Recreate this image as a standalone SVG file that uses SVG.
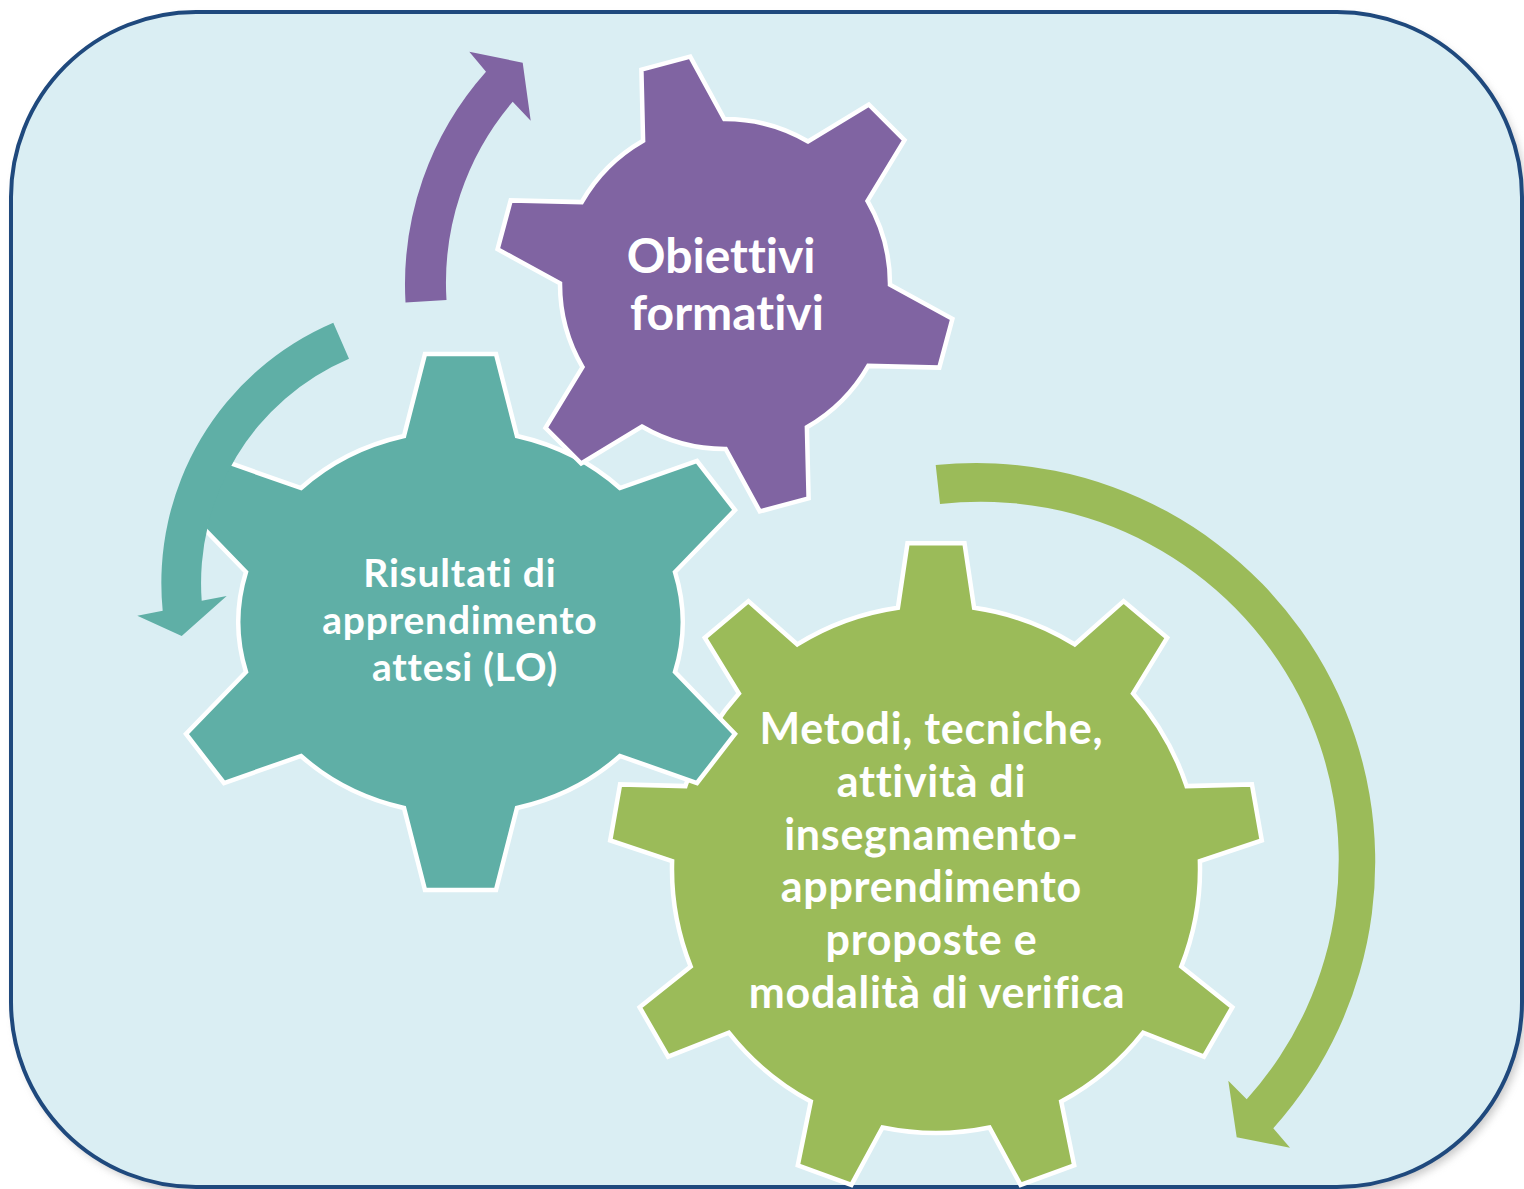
<svg xmlns="http://www.w3.org/2000/svg" width="1524" height="1189" viewBox="0 0 1524 1189">
  <defs>
    <filter id="shadow" x="-5%" y="-5%" width="110%" height="110%">
      <feGaussianBlur stdDeviation="4"/>
    </filter>
  </defs>
  <style>
    .gear { stroke: #FFFFFF; stroke-width: 4.5; stroke-linejoin: miter; }
    .lbl { font-family: Lato, "Open Sans", "Liberation Sans", sans-serif; font-weight: 700; fill: #FFFFFF; text-anchor: middle; font-variant-ligatures: none; font-feature-settings: "liga" 0, "clig" 0, "dlig" 0; }
    .arrow { stroke: none; }
  </style>
  <rect x="0" y="0" width="1524" height="1189" fill="#FFFFFF"/>
  <g id="background">
    <rect x="15" y="17" width="1511" height="1175" rx="185" ry="185" fill="#9A9A9A" opacity="0.55" filter="url(#shadow)"/>
    <rect x="11" y="12" width="1511" height="1175" rx="185" ry="185" fill="#DAEEF3" stroke="#1F497D" stroke-width="4"/>
  </g>

  <g id="node-metodi">
    <path class="gear" fill="#9BBB59" d="M 897.9,607.8 L 907.5,543.2 L 964.5,543.2 L 974.1,607.8 A 264 264 0 0 1 1074.7,644.4 L 1123.6,601.1 L 1167.2,637.8 L 1133.1,693.4 A 264 264 0 0 1 1186.6,786.1 L 1251.9,784.4 L 1261.8,840.5 L 1199.9,861.2 A 264 264 0 0 1 1181.3,966.6 L 1232.4,1007.2 L 1203.9,1056.6 L 1143.2,1032.6 A 264 264 0 0 1 1061.2,1101.5 L 1074.2,1165.4 L 1020.6,1184.9 L 989.5,1127.5 A 264 264 0 0 1 882.5,1127.5 L 851.4,1184.9 L 797.8,1165.4 L 810.8,1101.5 A 264 264 0 0 1 728.8,1032.6 L 668.1,1056.6 L 639.6,1007.2 L 690.7,966.6 A 264 264 0 0 1 672.1,861.2 L 610.2,840.5 L 620.1,784.4 L 685.4,786.1 A 264 264 0 0 1 738.9,693.4 L 704.8,637.8 L 748.4,601.1 L 797.3,644.4 A 264 264 0 0 1 897.9,607.8 Z"/>
    <text class="lbl" font-size="43" letter-spacing="0.7">
      <tspan x="937" y="744">Metodi, tecniche,</tspan>
      <tspan x="937" y="797">attività di</tspan>
      <tspan x="937" y="850">insegnamento-</tspan>
      <tspan x="937" y="902">apprendimento</tspan>
      <tspan x="937" y="955">proposte e</tspan>
      <tspan x="937" y="1008">modalità di verifica</tspan>
    </text>
  </g>

  <g id="node-risultati">
    <path class="gear" fill="#5FAFA6" d="M 404,436 L 425,354 L 496,354 L 517,436 A 222 192 0 0 1 620,488 L 697,461 L 735,510 L 675,572 A 222 192 0 0 1 675,672 L 735,734 L 697,783 L 620,756 A 222 192 0 0 1 517,808 L 496,890 L 425,890 L 404,808 A 222 192 0 0 1 301,756 L 224,783 L 186,734 L 246,672 A 222 192 0 0 1 246,572 L 186,510 L 224,461 L 301,488 A 222 192 0 0 1 404,436 Z"/>
    <text class="lbl" font-size="39" letter-spacing="0.8">
      <tspan x="465" y="587">Risultati di</tspan>
      <tspan x="465" y="634">apprendimento</tspan>
      <tspan x="465" y="681">attesi (LO)</tspan>
    </text>
  </g>

  <g id="node-obiettivi">
    <path class="gear" fill="#8064A2" d="M 643.1,140.7 L 641.4,69.7 L 690.2,56.6 L 724.3,119 A 165 165 0 0 1 808.1,141.5 L 868.8,104.5 L 904.5,140.2 L 867.5,200.9 A 165 165 0 0 1 890,284.7 L 952.4,318.8 L 939.3,367.6 L 868.3,365.9 A 165 165 0 0 1 806.9,427.3 L 808.6,498.3 L 759.8,511.4 L 725.7,449 A 165 165 0 0 1 641.9,426.5 L 581.2,463.5 L 545.5,427.8 L 582.5,367.1 A 165 165 0 0 1 560,283.3 L 497.6,249.2 L 510.7,200.4 L 581.7,202.1 A 165 165 0 0 1 643.1,140.7 Z"/>
    <text class="lbl" font-size="48">
      <tspan x="727" y="273">Obiettivi</tspan>
      <tspan x="727" y="330">formativi</tspan>
    </text>
  </g>

  <g id="connectors">
    <path class="arrow" fill="#8064A2" d="M 405.5,302.4 A 320 320 0 0 1 486,71.7 L 469.3,51.7 L 522.7,62.7 L 530.7,120.7 L 512.7,101.7 A 279 279 0 0 0 446.5,300.1 Z"/>
    <path class="arrow" fill="#5FAFA6" d="M 333.3,322.7 A 283 283 0 0 0 162.7,610.7 L 137.3,615.7 L 181.7,636 L 226.7,596 L 201.7,600.7 A 244 244 0 0 1 349,358.7 Z"/>
    <path class="arrow" fill="#9BBB59" d="M 935.7,465 A 399 399 0 0 1 1273.3,1128.3 L 1290,1147.7 L 1236.7,1137.3 L 1228.3,1080.7 L 1246.7,1099.3 A 358 358 0 0 0 940,504 Z"/>
  </g>
</svg>
